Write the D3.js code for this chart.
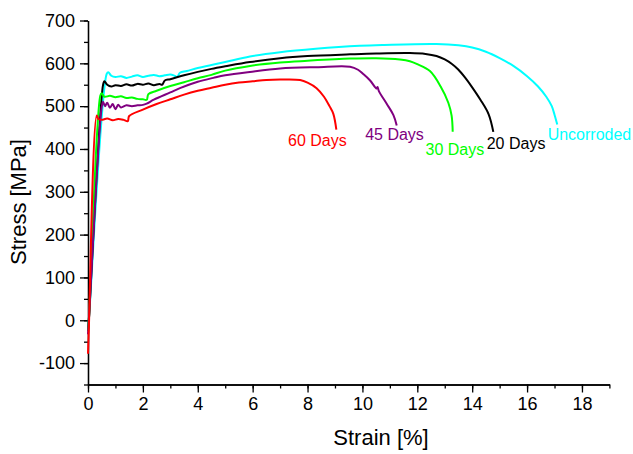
<!DOCTYPE html>
<html>
<head>
<meta charset="utf-8">
<script src="https://cdn.jsdelivr.net/npm/d3@7"></script>
<style>
  body { margin: 0; background: #fff; }
  text { font-family: "Liberation Sans", Arial, Helvetica, sans-serif; }
  .axis path, .axis line { stroke: #000; stroke-width: 1.3; }
  .axis text { font-size: 18px; fill: #000; }
</style>
</head>
<body>
<div id="svg"></div>
<script>
// stress-strain curves, strain [%] and stress [MPa]
let seriesNames = ["Uncorroded", "20 Days", "30 Days", "45 Days", "60 Days"];
let colors = ["#00ffff", "#000000", "#00ff00", "#800080", "#ff0000"];

let uncorrodedX = [0, 0.03, 0.68, 0.74, 0.85, 1.0, 1.2, 1.4, 1.6, 1.8, 2.0, 2.2, 2.4, 2.6, 2.8, 3.0, 3.15, 3.25, 3.35, 3.6, 4.0, 4.5, 5.0, 5.9, 7.0, 8.3, 9.9, 10.8, 12.7, 13.5, 14.0, 14.5, 15.0, 15.5, 16.0, 16.4, 16.7, 16.9, 17.0, 17.1];
let uncorrodedY = [-20, 0, 575, 579, 571, 568, 570, 566, 569, 572, 568, 571, 573, 570, 572, 574, 571, 568, 578, 582, 589, 596, 603, 616, 626, 634, 641, 643, 645, 642, 637, 627, 612, 594, 570, 546, 522, 500, 480, 457];

let days20X = [0, 0.03, 0.55, 0.6, 0.7, 0.85, 1.0, 1.2, 1.4, 1.6, 1.8, 2.0, 2.2, 2.4, 2.6, 2.7, 2.8, 3.0, 3.5, 4.0, 4.5, 5.0, 5.9, 7.0, 8.0, 9.55, 10.5, 11.73, 12.3, 12.7, 13.0, 13.25, 13.5, 13.75, 14.0, 14.3, 14.6, 14.77];
let days20Y = [-25, 0, 550, 558, 550, 546, 549, 547, 551, 548, 552, 550, 553, 549, 552, 550, 560, 563, 572, 580, 587, 593, 603, 612, 617, 621, 623, 624, 622, 617, 609, 599, 585, 566, 544, 515, 481, 440];

let days30X = [0, 0.03, 0.45, 0.5, 0.6, 0.8, 1.0, 1.2, 1.4, 1.6, 1.8, 2.0, 2.14, 2.2, 2.5, 3.0, 3.5, 4.0, 4.5, 5.0, 5.9, 7.0, 8.0, 9.55, 10.5, 11.37, 11.73, 12.0, 12.46, 12.85, 13.13, 13.25, 13.29];
let days30Y = [-25, 0, 525, 530, 522, 524, 521, 523, 519, 520, 517, 516, 515, 528, 536, 547, 556, 565, 573, 583, 594, 602, 606, 611, 612, 609, 605, 598, 582, 546, 508, 478, 440];

let days45X = [0, 0.03, 0.5, 0.55, 0.62, 0.7, 0.8, 0.9, 1.0, 1.1, 1.2, 1.4, 1.6, 1.8, 2.0, 2.14, 2.4, 3.0, 3.35, 4.0, 4.57, 5.0, 5.9, 7.0, 8.33, 9.55, 9.84, 10.03, 10.28, 10.52, 10.55, 10.6, 10.89, 11.13, 11.25];
let days45Y = [-33, 0, 498, 510, 500, 508, 496, 505, 493, 503, 497, 502, 500, 502, 503, 506, 515, 532, 542, 557, 566, 572, 580, 588, 591, 592, 585, 575, 560, 541, 545, 535, 505, 479, 455];

let days60X = [0, 0.03, 0.32, 0.38, 0.5, 0.7, 0.9, 1.1, 1.3, 1.45, 1.5, 2.0, 2.5, 3.0, 3.5, 4.0, 4.5, 5.0, 5.5, 6.0, 6.5, 7.0, 7.73, 8.0, 8.33, 8.6, 8.8, 8.94, 9.05];
let days60Y = [-78, -20, 478, 470, 468, 471, 467, 470, 468, 465, 477, 492, 505, 516, 527, 536, 543, 550, 555, 558, 561, 562, 561, 555, 542, 522, 500, 482, 445];

// label anchors in data units (strain, stress)
let labelX = [16.75, 14.53, 12.3, 10.1, 7.29];
let labelY = [420, 401, 387, 420, 408];

let xTicks = [0, 2, 4, 6, 8, 10, 12, 14, 16, 18];
let yTicks = [-100, 0, 100, 200, 300, 400, 500, 600, 700];

function makeGraph() {
  let w = 633, h = 454;
  let svg = d3.select("#svg").append("svg")
      .attr("width", w).attr("height", h);

  let x = d3.scaleLinear().domain([0, 19]).range([88, 609.4]);
  let y = d3.scaleLinear().domain([-150, 700]).range([384.5, 20.5]);

  let allX = [uncorrodedX, days20X, days30X, days45X, days60X];
  let allY = [uncorrodedY, days20Y, days30Y, days45Y, days60Y];
  let series = allX.map((xs, i) => xs.map((v, j) => [v, allY[i][j]]));

  // minor ticks first
  svg.append("g").attr("class", "axis")
     .attr("transform", "translate(0," + y(-150) + ")")
     .call(d3.axisBottom(x).tickValues(d3.range(0, 20, 1)).tickSize(4).tickSizeOuter(0).tickFormat(""));
  svg.append("g").attr("class", "axis")
     .attr("transform", "translate(" + x(0) + ",0)")
     .call(d3.axisLeft(y).tickValues(d3.range(-150, 701, 50)).tickSize(4).tickSizeOuter(0).tickFormat(""));

  svg.append("g").attr("class", "axis")
     .attr("transform", "translate(0," + y(-150) + ")")
     .call(d3.axisBottom(x).tickValues(xTicks).tickSize(8).tickSizeOuter(0).tickPadding(5)
       .tickFormat(d => String(d)));
  svg.append("g").attr("class", "axis")
     .attr("transform", "translate(" + x(0) + ",0)")
     .call(d3.axisLeft(y).tickValues(yTicks).tickSize(8).tickSizeOuter(0).tickPadding(5)
       .tickFormat(d => String(d)));   // plain hyphen for -100

  let line = d3.line()
      .x(d => x(d[0]))
      .y(d => y(d[1]))
      .curve(d3.curveCatmullRom.alpha(0.5));

  // draw back to front so red ends up on top, like the picture
  svg.append("g").selectAll("path")
     .data(series)
     .enter()
     .append("path")
     .attr("d", line)
     .attr("fill", "none")
     .attr("stroke", (d, i) => colors[i])
     .attr("stroke-width", 2);

  svg.append("g").selectAll("text")
     .data(seriesNames)
     .enter()
     .append("text")
     .attr("x", (d, i) => x(labelX[i]))
     .attr("y", (d, i) => y(labelY[i]))
     .attr("fill", (d, i) => colors[i])
     .style("font-size", "16px")
     .text(d => d);

  svg.append("text")
     .attr("x", 381)
     .attr("y", 445)
     .attr("text-anchor", "middle")
     .style("font-size", "22px")
     .text("Strain [%]");

  svg.append("text")
     .attr("transform", "translate(26,202) rotate(-90)")
     .attr("text-anchor", "middle")
     .style("font-size", "22px")
     .text("Stress [MPa]");
}

window.onload = function() {
  makeGraph();
};
</script>
</body>
</html>
